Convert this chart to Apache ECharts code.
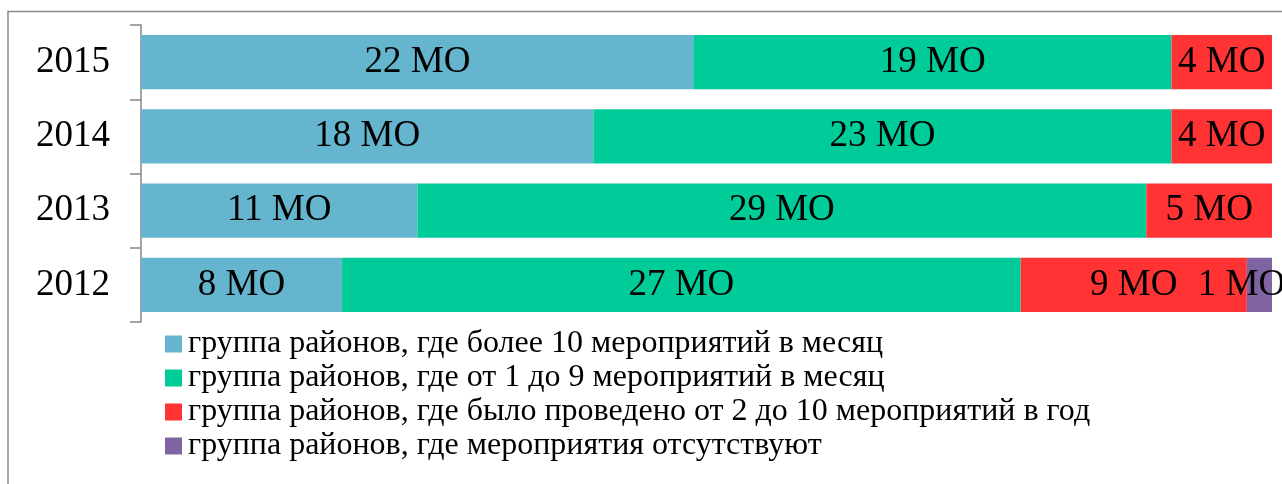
<!DOCTYPE html>
<html>
<head>
<meta charset="utf-8">
<script src="https://cdn.jsdelivr.net/npm/echarts@6/dist/echarts.min.js"></script>
<style>
  html, body { margin: 0; padding: 0; background: #fff; }
  #chart { width: 1282px; height: 484px; }
</style>
</head>
<body>
<div id="chart"></div>
<script>
// Years (bottom to top on the category axis)
const years = ['2012', '2013', '2014', '2015'];

// Number of municipal units (МО) in each group, per year
const moreThan10PerMonth = [8, 11, 18, 22];
const from1to9PerMonth = [27, 29, 23, 19];
const from2to10PerYear = [9, 5, 4, 4];
const noEvents = [1, null, null, null];

const seriesNames = [
  'группа районов, где более 10 мероприятий в месяц',
  'группа районов, где от 1 до 9 мероприятий в месяц',
  'группа районов, где было проведено от 2 до 10 мероприятий в год',
  'группа районов, где мероприятия отсутствуют'
];

const colors = ['#64B5CD', '#00CC99', '#FF3333', '#8064A2'];
const serif = '"Liberation Serif", "Times New Roman", serif';

const chart = echarts.init(document.getElementById('chart'), null, { renderer: 'canvas' });

function barSeries(name, values, color, extraLabel) {
  return {
    name: name,
    type: 'bar',
    stack: 'total',
    barCategoryGap: '27%',
    data: values.map((v, i) => {
      const item = { value: v };
      if (extraLabel && extraLabel[i]) item.label = extraLabel[i];
      return item;
    }),
    itemStyle: { color: color },
    label: {
      show: true,
      position: 'inside',
      formatter: p => (p.value == null ? '' : p.value + ' МО'),
      color: '#000',
      fontFamily: serif,
      fontSize: 37
    }
  };
}

chart.setOption({
  animation: false,
  graphic: [{
    type: 'rect',
    shape: { x: 8, y: 11.5, width: 1400, height: 600 },
    style: { fill: 'none', stroke: '#8a8a8a', lineWidth: 1.5 },
    silent: true,
    z: -1
  }],
  grid: { left: 141, right: 10, top: 25, bottom: 162, containLabel: false },
  xAxis: {
    type: 'value',
    min: 0,
    max: 45,
    show: false
  },
  yAxis: {
    type: 'category',
    data: years,
    axisLine: { show: true, lineStyle: { color: '#868686', width: 1.5 } },
    axisTick: { show: true, length: 11, lineStyle: { color: '#868686', width: 1.5 } },
    axisLabel: { color: '#000', fontFamily: serif, fontSize: 37, margin: 31 }
  },
  legend: {
    orient: 'vertical',
    left: 165,
    top: 327,
    padding: 0,
    itemWidth: 17,
    itemHeight: 17,
    itemGap: 0,
    icon: 'rect',
    textStyle: { color: '#000', fontFamily: serif, fontSize: 32, lineHeight: 34, padding: [0, 0, 0, 1] },
    data: seriesNames
  },
  series: [
    barSeries(seriesNames[0], moreThan10PerMonth, colors[0]),
    barSeries(seriesNames[1], from1to9PerMonth, colors[1]),
    barSeries(seriesNames[2], from2to10PerYear, colors[2]),
    barSeries(seriesNames[3], noEvents, colors[3], [{ offset: [-18, 0] }])
  ]
});
</script>
</body>
</html>
